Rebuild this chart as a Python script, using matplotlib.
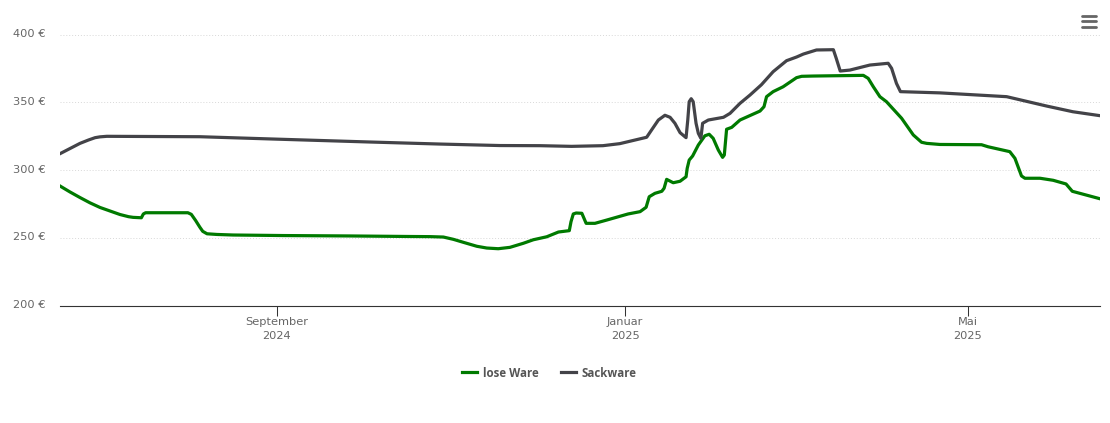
#-------------------------------------------------------------------------------
# LIBRARIES
#-------------------------------------------------------------------------------
import pandas as pd
import matplotlib
matplotlib.use('Agg')
import matplotlib.pyplot as plt
import matplotlib.dates as mdates
from matplotlib.lines import Line2D
from matplotlib.transforms import ScaledTranslation
#-------------------------------------------------------------------------------
# DATA (days since start date, price in euro)
#-------------------------------------------------------------------------------
start_date = '2024-06-17'
end_days = 364.3

lose_days = [0, 3.5, 7, 10.5, 14, 17.5, 21, 24, 25.6, 28.5, 29.2, 30, 44.8, 46, 47.5,
             49, 50, 51.5, 55, 60.6, 78.1, 101.6, 122.6, 129.6, 134.3, 137.8, 141.3,
             146, 149.5, 153.5, 157.6, 162.3, 165.8, 170.5, 174.6, 178.4, 179, 179.8,
             180.8, 182.8, 184.3, 187.4, 191.5, 199, 203.2, 205.3, 206.4, 208.4, 210.8,
             211.6, 212.5, 214.8, 217.2, 219.3, 219.7, 220.4, 221.6, 223.6, 225.9,
             227.4, 228.8, 230.6, 232.1, 232.7, 233.5, 235.3, 238.2, 245.2, 246.6,
             247.5, 249.8, 253.3, 258, 259.8, 263.8, 281.4, 283.1, 284.9, 287.2, 289.5,
             294.8, 298.9, 301.8, 303.6, 308.2, 322.8, 325.1, 332.7, 334.5, 336.8, 338,
             343.3, 347.9, 352.4, 354.6, 364.3]
lose_ware = [288.4, 284, 279.9, 276, 272.6, 270, 267.4, 265.8, 265.3, 265, 267.8, 268.7,
             268.7, 267.5, 263, 258, 255, 253.2, 252.7, 252.3, 251.9, 251.6, 251.2,
             251.1, 250.8, 249.1, 246.9, 244, 242.7, 242.2, 243.2, 246.2, 248.8, 251,
             254.5, 255.5, 262.1, 267.8, 268.5, 268.3, 260.9, 260.9, 263.3, 267.8,
             269.5, 272.7, 280.5, 283, 284.5, 286.7, 293.3, 290.8, 291.9, 295.2, 301.4,
             307.5, 310.5, 318.6, 325.4, 326.5, 323.5, 314.9, 309.5, 311.2, 330.2, 331.6,
             337, 343.6, 346.8, 354.2, 357.9, 361.5, 368.2, 369.2, 369.4, 369.9, 367.7,
             361.5, 354.2, 350.5, 338.3, 326, 320.6, 319.8, 319, 318.8, 317.3, 313.7,
             308.8, 295.8, 294.1, 294.1, 292.6, 289.9, 284.5, 279]

sack_days = [0, 3.5, 7, 10, 12.3, 14, 16.4, 49, 74.6, 108.6, 133.1, 154.1, 168.1, 179.2,
             190.2, 196.1, 205.5, 207.2, 209.6, 211.9, 213.7, 215.4, 217.2, 219.3, 219.9,
             220.4, 221.1, 221.8, 222.8, 223.6, 224.5, 225.1, 227.1, 232.4, 234.7, 238.2,
             241.7, 245.7, 249.8, 254.5, 258, 260.4, 265, 270.9, 271.9, 273.3, 276.7,
             283.7, 290.1, 291.3, 293, 294.4, 308.2, 331.6, 345.6, 354.8, 364.3]
sackware = [312.2, 316, 319.8, 322.3, 324, 324.6, 325, 324.7, 323, 320.8, 319.3, 318.2,
            318.1, 317.6, 318.1, 319.6, 324.3, 329.6, 337, 340.5, 339, 334.6, 327.7, 324,
            337, 350.5, 352.7, 350.5, 334.6, 327.2, 323.5, 334.6, 337, 339, 341.9, 349.3,
            355.4, 363, 372.6, 380.7, 383.4, 385.6, 388.6, 388.8, 382.5, 373.1, 373.8,
            377.5, 378.8, 375.1, 364, 357.9, 357, 354.2, 347.3, 343.1, 340.2]

y_ticks = [200, 250, 300, 350, 400]
x_tick_dates = ['2024-09-01', '2025-01-01', '2025-05-01']
x_tick_labels = ['September\n2024', 'Januar\n2025', 'Mai\n2025']
#-------------------------------------------------------------------------------
W, H = 1110, 423
GREEN = '#007a00'
GRAY = '#434348'
TEXT = '#666666'

start = pd.Timestamp(start_date)

fig = plt.figure(figsize=(W/100, H/100), dpi=100)
ax = fig.add_axes([60/W, 1-306/H, 1040/W, 271.5/H])

ax.plot(start + pd.to_timedelta(lose_days, unit='D'), lose_ware, color=GREEN, lw=2.3,
        solid_joinstyle='round', label='lose Ware', zorder=3)
ax.plot(start + pd.to_timedelta(sack_days, unit='D'), sackware, color=GRAY, lw=2.3,
        solid_joinstyle='round', label='Sackware', zorder=3)

ax.set_xlim(start, start + pd.Timedelta(days=end_days))
ax.set_ylim(200, 400)

# axes
for side in ['top', 'left', 'right']:
    ax.spines[side].set_visible(False)
ax.spines['bottom'].set_color('#333333')
ax.spines['bottom'].set_linewidth(0.8)

ax.set_yticks(y_ticks)
ax.set_yticklabels(['%d €' % v for v in y_ticks], color=TEXT, fontsize=8.2)
ax.tick_params(axis='y', length=0, pad=10.5)
# labels sit a little above their grid line
for label in ax.get_yticklabels():
    label.set_transform(label.get_transform() + ScaledTranslation(0, 1.2/72, fig.dpi_scale_trans))
ax.set_xticks([mdates.date2num(pd.Timestamp(d)) for d in x_tick_dates])
ax.set_xticklabels(x_tick_labels, color=TEXT, fontsize=8.2, linespacing=1.55)
ax.tick_params(axis='x', length=7, width=0.75, color='#333333', pad=0.8)
ax.grid(axis='y', color='#d8d8d8', lw=0.7, ls=(0, (1, 2)))
ax.set_axisbelow(True)

# legend
fig.legend(*ax.get_legend_handles_labels(), loc='center', ncol=2,
           bbox_to_anchor=(549.5/W, 1-373/H), frameon=False,
           prop={'family': 'Open Sans', 'weight': 'bold', 'size': 8.3},
           labelcolor='#555555', handlelength=1.25, handletextpad=0.5,
           columnspacing=2.0, borderpad=0)

# hamburger menu
for py in [16, 21.5, 27]:
    fig.add_artist(Line2D([1082/W, 1096/W], [1-py/H, 1-py/H], color=TEXT, lw=2.0,
                          solid_capstyle='round'))

fig.savefig('out.png', dpi=100)
